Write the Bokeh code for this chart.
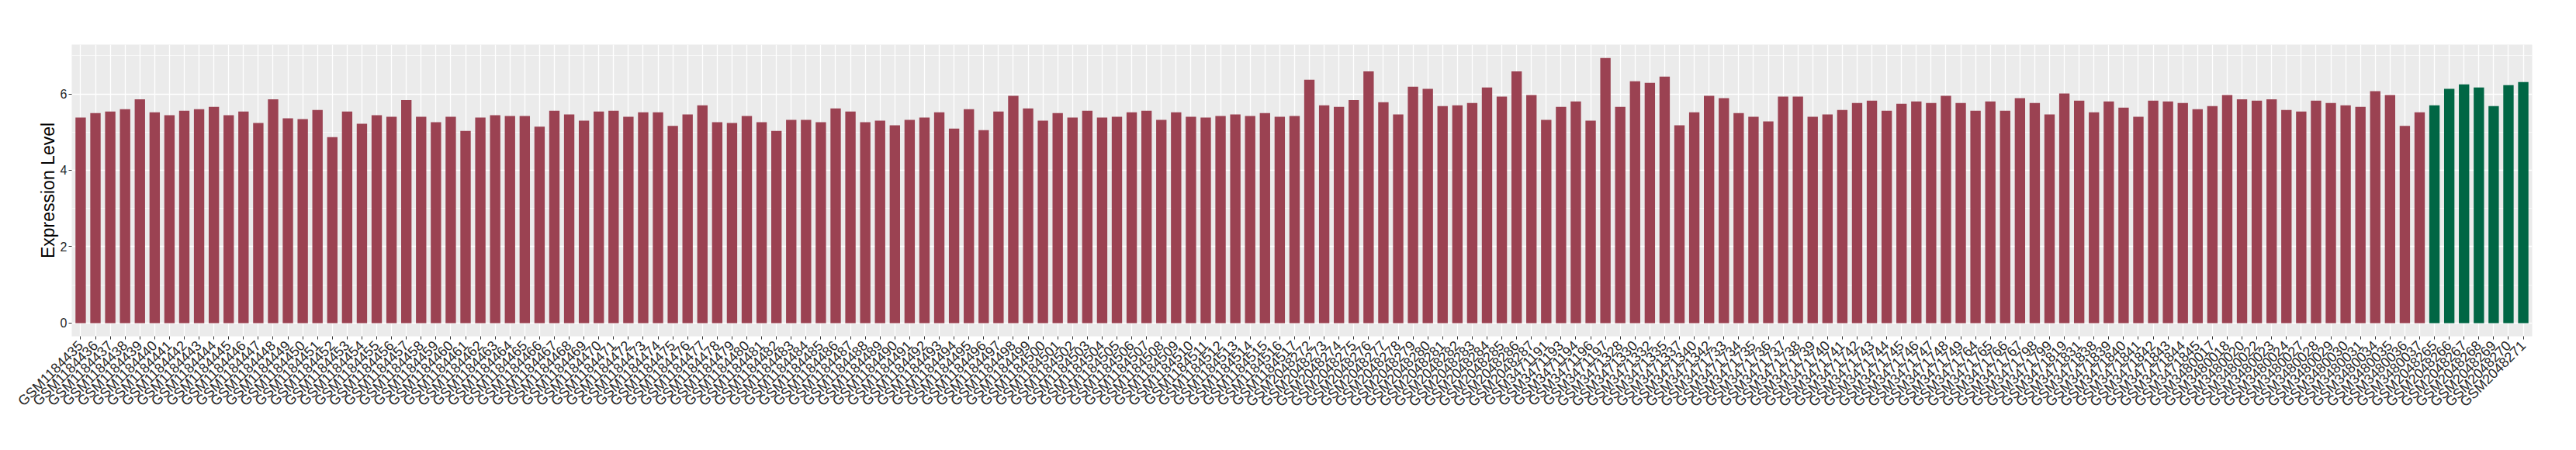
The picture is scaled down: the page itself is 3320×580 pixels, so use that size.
import math
from bokeh.plotting import figure
from bokeh.models import FactorRange, Range1d, FixedTicker
from bokeh.embed import file_html
from bokeh.resources import INLINE

samples_red = [
    "GSM1184435", "GSM1184436", "GSM1184437", "GSM1184438", "GSM1184439", "GSM1184440",
    "GSM1184441", "GSM1184442", "GSM1184443", "GSM1184444", "GSM1184445", "GSM1184446",
    "GSM1184447", "GSM1184448", "GSM1184449", "GSM1184450", "GSM1184451", "GSM1184452",
    "GSM1184453", "GSM1184454", "GSM1184455", "GSM1184456", "GSM1184457", "GSM1184458",
    "GSM1184459", "GSM1184460", "GSM1184461", "GSM1184462", "GSM1184463", "GSM1184464",
    "GSM1184465", "GSM1184466", "GSM1184467", "GSM1184468", "GSM1184469", "GSM1184470",
    "GSM1184471", "GSM1184472", "GSM1184473", "GSM1184474", "GSM1184475", "GSM1184476",
    "GSM1184477", "GSM1184478", "GSM1184479", "GSM1184480", "GSM1184481", "GSM1184482",
    "GSM1184483", "GSM1184484", "GSM1184485", "GSM1184486", "GSM1184487", "GSM1184488",
    "GSM1184489", "GSM1184490", "GSM1184491", "GSM1184492", "GSM1184493", "GSM1184494",
    "GSM1184495", "GSM1184496", "GSM1184497", "GSM1184498", "GSM1184499", "GSM1184500",
    "GSM1184501", "GSM1184502", "GSM1184503", "GSM1184504", "GSM1184505", "GSM1184506",
    "GSM1184507", "GSM1184508", "GSM1184509", "GSM1184510", "GSM1184511", "GSM1184512",
    "GSM1184513", "GSM1184514", "GSM1184515", "GSM1184516", "GSM1184517",
    "GSM2048272", "GSM2048273", "GSM2048274", "GSM2048275", "GSM2048276", "GSM2048277",
    "GSM2048278", "GSM2048279", "GSM2048280", "GSM2048281", "GSM2048282", "GSM2048283",
    "GSM2048284", "GSM2048285", "GSM2048286", "GSM2048287",
    "GSM3471191", "GSM3471193", "GSM3471194", "GSM3471196", "GSM3471197",
    "GSM3471328", "GSM3471330", "GSM3471332", "GSM3471335", "GSM3471337", "GSM3471340",
    "GSM3471342",
    "GSM3471733", "GSM3471734", "GSM3471735", "GSM3471736", "GSM3471737", "GSM3471738",
    "GSM3471739", "GSM3471740", "GSM3471741", "GSM3471742", "GSM3471743", "GSM3471744",
    "GSM3471745", "GSM3471746", "GSM3471747", "GSM3471748", "GSM3471749",
    "GSM3471764", "GSM3471765", "GSM3471766", "GSM3471767", "GSM3471798", "GSM3471799",
    "GSM3471819", "GSM3471831",
    "GSM3471838", "GSM3471839", "GSM3471840", "GSM3471841", "GSM3471842", "GSM3471843",
    "GSM3471844", "GSM3471845",
    "GSM3480017", "GSM3480018", "GSM3480020", "GSM3480022", "GSM3480023", "GSM3480024",
    "GSM3480027", "GSM3480028", "GSM3480029", "GSM3480030", "GSM3480031", "GSM3480034",
    "GSM3480035", "GSM3480036", "GSM3480037",
]

expr_red = [
    5.38, 5.50, 5.54, 5.60, 5.86, 5.52, 5.44, 5.56, 5.60, 5.66,
    5.44, 5.54, 5.24, 5.86, 5.36, 5.34, 5.58, 4.87, 5.54, 5.22,
    5.44, 5.40, 5.84, 5.40, 5.26, 5.40, 5.03, 5.38, 5.44, 5.42,
    5.42, 5.14, 5.56, 5.46, 5.30, 5.54, 5.56, 5.40, 5.52, 5.52,
    5.16, 5.46,
    5.70, 5.26, 5.24, 5.42, 5.26, 5.03, 5.32, 5.32, 5.26, 5.62,
    5.54, 5.26, 5.30, 5.18, 5.32, 5.38, 5.52, 5.09, 5.60, 5.05,
    5.54, 5.95, 5.62, 5.30, 5.50, 5.38, 5.56, 5.38, 5.40, 5.52,
    5.56, 5.32, 5.52, 5.40, 5.38, 5.42, 5.46, 5.42, 5.50, 5.40,
    5.42,
    6.37, 5.70, 5.66, 5.84, 6.59, 5.78, 5.46, 6.19, 6.13, 5.68,
    5.70, 5.76, 6.17, 5.93, 6.59, 5.97, 5.32, 5.66, 5.80, 5.30,
    6.94, 5.66, 6.33, 6.29, 6.45, 5.18, 5.52, 5.95, 5.89, 5.50,
    5.40, 5.28, 5.93, 5.93, 5.40, 5.46, 5.58, 5.76, 5.82, 5.56,
    5.74,
    5.80, 5.76, 5.95, 5.76, 5.56, 5.80, 5.56, 5.89, 5.76, 5.46,
    6.01, 5.82, 5.52, 5.80, 5.64, 5.40, 5.82, 5.80, 5.76, 5.60,
    5.68, 5.97, 5.86, 5.82, 5.86, 5.58, 5.54, 5.82, 5.76, 5.70,
    5.66, 6.07, 5.97, 5.16, 5.52,
]

samples_green = [
    "GSM2048265", "GSM2048266", "GSM2048267", "GSM2048268", "GSM2048269",
    "GSM2048270", "GSM2048271",
]
expr_green = [5.70, 6.13, 6.25, 6.17, 5.68, 6.23, 6.31]

y_ticks = [0, 2, 4, 6]
y_minor = [1, 3, 5, 7]

factors = samples_red + samples_green
FONT = "Liberation Sans"

p = figure(
    x_range=FactorRange(factors=factors, range_padding=0.2 / len(factors),
                        range_padding_units="percent"),
    y_range=Range1d(-0.347, 7.29),
    width=3304, height=564,
    output_backend="svg", toolbar_location=None,
    min_border_left=92, min_border_right=41,
    min_border_top=57, min_border_bottom=131,
)

p.vbar(x=samples_red, top=expr_red, bottom=0, width=0.7,
       fill_color="#9B4252", line_color=None)
p.vbar(x=samples_green, top=expr_green, bottom=0, width=0.7,
       fill_color="#006644", line_color=None)

p.background_fill_color = "#EBEBEB"
p.border_fill_color = "white"
p.outline_line_color = None

p.xgrid.grid_line_color = "white"
p.xgrid.grid_line_width = 1.3
p.ygrid.grid_line_color = "white"
p.ygrid.grid_line_width = 1.3
p.ygrid.minor_grid_line_color = "white"
p.ygrid.minor_grid_line_width = 0.6

p.yaxis.ticker = FixedTicker(ticks=y_ticks, minor_ticks=y_minor)

for ax in (p.xaxis[0], p.yaxis[0]):
    ax.axis_line_color = None
    ax.major_tick_in = 0
    ax.major_tick_out = 4
    ax.major_tick_line_color = "#333333"
    ax.major_tick_line_width = 1
    ax.minor_tick_line_color = None
    ax.major_label_text_color = "#262626"
    ax.major_label_text_font = FONT

p.xaxis.major_label_orientation = math.pi / 4
p.xaxis.major_label_text_font_size = "18px"
p.xaxis.major_label_standoff = 5

p.yaxis.major_label_text_font_size = "16px"
p.yaxis.major_label_standoff = 2
p.yaxis.axis_label = "Expression Level"
p.yaxis.axis_label_text_font = FONT
p.yaxis.axis_label_text_font_size = "23px"
p.yaxis.axis_label_text_font_style = "normal"
p.yaxis.axis_label_text_color = "black"
p.yaxis.axis_label_standoff = 0

open("out.html", "w").write(file_html(p, INLINE))
